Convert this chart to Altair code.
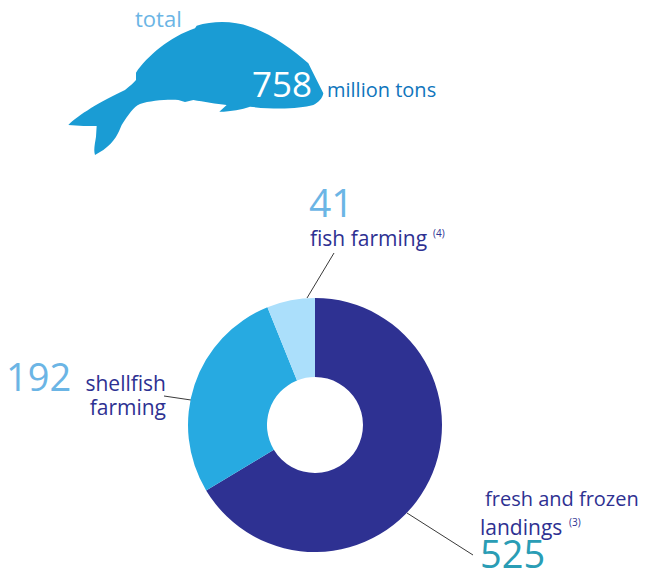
import altair as alt

# --- data ---
categories = ["fresh and frozen landings", "shellfish farming", "fish farming"]
tonnage_labels = ["525", "192", "41"]
drawn_angle = [239, 99, 22]   # slice sizes as drawn in the reference (degrees)
slice_colors = ["#2e3192", "#27aae1", "#abdffb"]
total_label = "758"

FONT = "Open Sans"
M = 8  # page margin: image px -> chart px


def text(s, x, y, size, color, align="left"):
    return alt.Chart(alt.Data(values=[{"t": s}])).mark_text(
        font=FONT, fontSize=size, color=color, align=align, baseline="alphabetic"
    ).encode(x=alt.value(x - M), y=alt.value(y - M), text="t:N")


def leader(x1, y1, x2, y2):
    return alt.Chart(alt.Data(values=[{"a": 1}])).mark_rule(color="#3a3a3a", strokeWidth=1).encode(
        x=alt.value(x1 - M), y=alt.value(y1 - M), x2=alt.value(x2 - M), y2=alt.value(y2 - M)
    )


# whale silhouette: outline traced in zoomed-crop units (3x), origin at image (50,0)
whale = (
    "M55 375 C85 345 150 305 225 270 C240 258 252 248 258 240 L258 218 "
    "C290 170 360 110 435 85 L440 77 C490 62 550 62 600 80 C660 100 730 150 775 190 "
    "L785 210 L820 280 C818 295 805 308 790 315 C750 326 680 330 600 320 "
    "C575 328 545 335 508 335 L530 315 C500 312 460 305 430 300 L405 306 L385 300 "
    "C350 298 300 302 270 312 C250 320 235 345 215 375 C205 400 195 425 160 450 "
    "L135 465 C130 450 135 430 138 410 L140 378 L100 378 Z"
)
whale_chart = alt.Chart(alt.Data(values=[{"a": 1}])).mark_point(
    shape=whale, filled=True, color="#1a9cd4", opacity=1, size=4 / 9, strokeWidth=0
).encode(x=alt.value(50 - M), y=alt.value(0 - M))

donut = alt.Chart(alt.Data(values=[
    {"cat": c, "angle": a, "i": i} for i, (c, a) in enumerate(zip(categories, drawn_angle))
])).mark_arc(innerRadius=48, outerRadius=127).encode(
    theta=alt.Theta("angle:Q", stack=True),
    order=alt.Order("i:Q"),
    color=alt.Color("cat:N", scale=alt.Scale(domain=categories, range=slice_colors), legend=None),
    x=alt.value(315 - M),
    y=alt.value(425 - M),
)

LIGHT = "#6bb5e5"
NAVY = "#2e3192"

chart = alt.layer(
    whale_chart,
    text("total", 135, 27, 22, LIGHT),
    text(total_label, 252, 97, 35, "#ffffff"),
    text("million tons", 327, 97, 20, "#0f75bc"),
    leader(334, 253, 307, 298),
    leader(164, 396, 191, 400),
    leader(407, 513, 473, 555),
    donut,
    text(tonnage_labels[2], 309, 217, 39, LIGHT),
    text("fish farming", 310, 246, 21, NAVY),
    text("(4)", 433, 237, 10, NAVY),
    text(tonnage_labels[1], 6, 391, 38, LIGHT),
    text("shellfish", 166, 391, 21, NAVY, align="right"),
    text("farming", 166, 415, 21, NAVY, align="right"),
    text("fresh and frozen", 485, 506, 20, NAVY),
    text("landings", 480, 535, 21, NAVY),
    text("(3)", 569, 526, 10, NAVY),
    text(tonnage_labels[0], 480, 568, 38, "#2a9db5"),
).properties(
    width=632, height=561, padding=0, autosize=alt.AutoSizeParams(type="none")
).configure_view(stroke=None)

chart.save("out.html", embed_options={"renderer": "svg", "actions": False})
